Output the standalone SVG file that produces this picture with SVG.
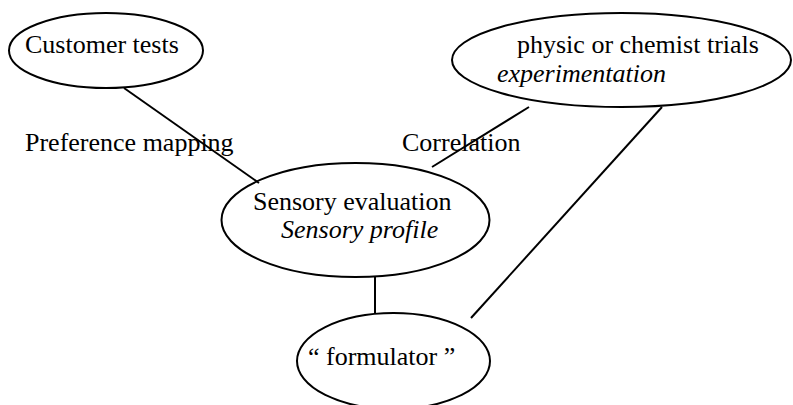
<svg xmlns="http://www.w3.org/2000/svg" width="793" height="405" viewBox="0 0 793 405">
  <style>
    .node { fill: none; stroke: #000; stroke-width: 2; }
    .link { stroke: #000; stroke-width: 2; fill: none; }
    text { font-family: "Liberation Serif", Tinos, "Times New Roman", Times, "DejaVu Serif", serif; font-size: 26px; fill: #000; }
    .it { font-style: italic; }
  </style>
  <rect width="793" height="405" fill="#fff"/>

  <g id="connectors">
    <line class="link" x1="124" y1="88" x2="259" y2="183"/>
    <line class="link" x1="529" y1="107" x2="432" y2="167"/>
    <line class="link" x1="662" y1="107" x2="471" y2="318"/>
    <line class="link" x1="375" y1="277" x2="375" y2="313"/>
  </g>

  <g id="customer-tests">
    <ellipse class="node" cx="106" cy="50.5" rx="97" ry="37.5"/>
    <text x="25" y="53">Customer tests</text>
  </g>

  <g id="physic-chemist-trials">
    <ellipse class="node" cx="621.5" cy="60" rx="169.5" ry="47"/>
    <text x="517" y="53">physic or chemist trials</text>
    <text class="it" x="497" y="82">experimentation</text>
  </g>

  <g id="sensory-evaluation">
    <ellipse class="node" cx="355.5" cy="220" rx="134" ry="57"/>
    <text x="253" y="210">Sensory evaluation</text>
    <text class="it" x="281" y="238">Sensory profile</text>
  </g>

  <g id="formulator">
    <ellipse class="node" cx="393.5" cy="361" rx="96.5" ry="48"/>
    <text x="308" y="365">“ formulator ”</text>
  </g>

  <g id="labels">
    <text x="25" y="151">Preference mapping</text>
    <text x="402" y="151">Correlation</text>
  </g>
</svg>
